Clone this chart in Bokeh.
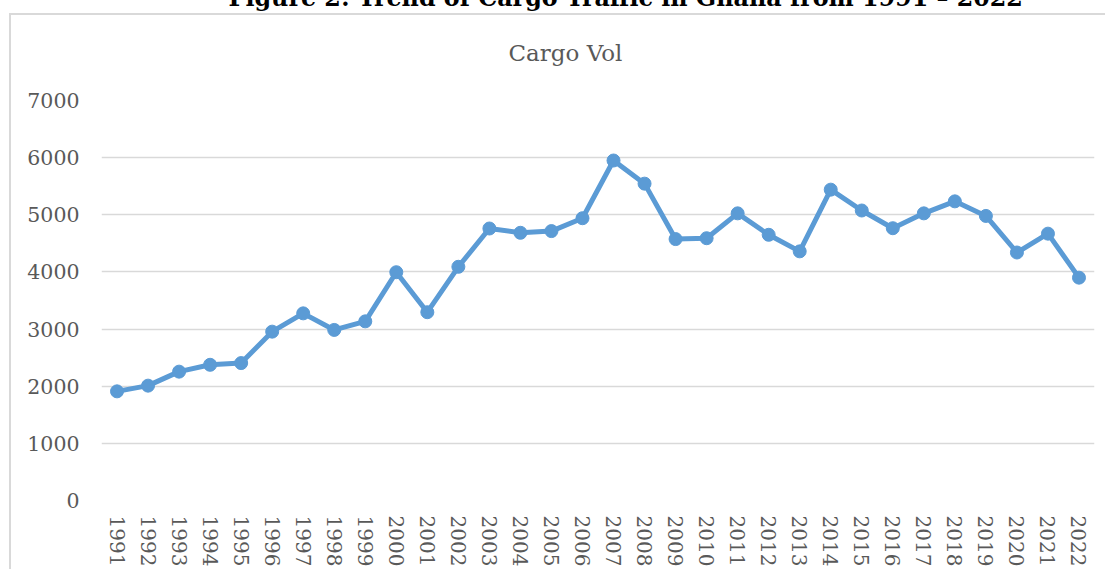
from bokeh.plotting import figure
from bokeh.models import Range1d, FixedTicker, Title
from bokeh.embed import file_html
from bokeh.resources import INLINE

years = [str(y) for y in range(1991, 2023)]
cargo_vol = [1910, 2010, 2255, 2375, 2405, 2955, 3275, 2985, 3135, 3995,
             3295, 4090, 4760, 4685, 4715, 4940, 5950, 5545, 4575, 4590,
             5025, 4650, 4360, 5440, 5075, 4765, 5025, 5235, 4980, 4340,
             4670, 3900]
y_ticks = [0, 1000, 2000, 3000, 4000, 5000, 6000, 7000]
chart_title = "Cargo Vol"
figure_title = "Figure 2: Trend of Cargo Traffic in Ghana from 1991 \u2013 2022"

FONT = "DejaVu Serif"
GREY = "#595959"
BLUE = "#5B9BD5"
BORDER = "#D9D9D9"

p = figure(x_range=years, y_range=Range1d(0, 7000),
           frame_width=993, frame_height=400,
           min_border_left=101, min_border_right=11,
           min_border_top=0, min_border_bottom=69,
           output_backend="svg", toolbar_location=None,
           background_fill_color="white", border_fill_color=None)
p.margin = (-10, 0, 0, 0)
p.styles = {
    "background": ("linear-gradient(%s,%s) 9px 23px / 2px 2000px no-repeat, "
                   "linear-gradient(%s,%s) 9px 23px / 2000px 2px no-repeat, white")
                  % (BORDER, BORDER, BORDER, BORDER),
}
p.outline_line_color = None

p.line(years, cargo_vol, line_color=BLUE, line_width=5)
p.scatter(years, cargo_vol, size=13, fill_color=BLUE, line_color=BLUE)

# axes
p.yaxis.ticker = FixedTicker(ticks=y_ticks)
for ax in (p.xaxis[0], p.yaxis[0]):
    ax.axis_line_color = None
    ax.major_tick_line_color = None
    ax.minor_tick_line_color = None
    ax.major_tick_out = 0
    ax.major_tick_in = 0
    ax.major_label_text_font = FONT
    ax.major_label_text_font_size = "20px"
    ax.major_label_text_color = GREY
p.yaxis.major_label_text_font_size = "20.5px"
p.yaxis.major_label_standoff = 22
p.xaxis.major_label_standoff = 15
p.xaxis.major_label_orientation = "vertical"

p.xgrid.grid_line_color = None
p.ygrid.grid_line_color = BORDER
p.ygrid.grid_line_width = 1.5

# titles (first added sits nearest the plot area)
p.add_layout(Title(text=chart_title, align="left", offset=407, standoff=70,
                   text_font=FONT, text_font_style="normal",
                   text_font_size="23px", text_color=GREY), "above")
p.add_layout(Title(text=figure_title, align="left", offset=127, standoff=-18,
                   text_font=FONT, text_font_style="bold",
                   text_font_size="23.8px", text_color="black"), "above")

open("out.html", "w").write(file_html(p, INLINE))
